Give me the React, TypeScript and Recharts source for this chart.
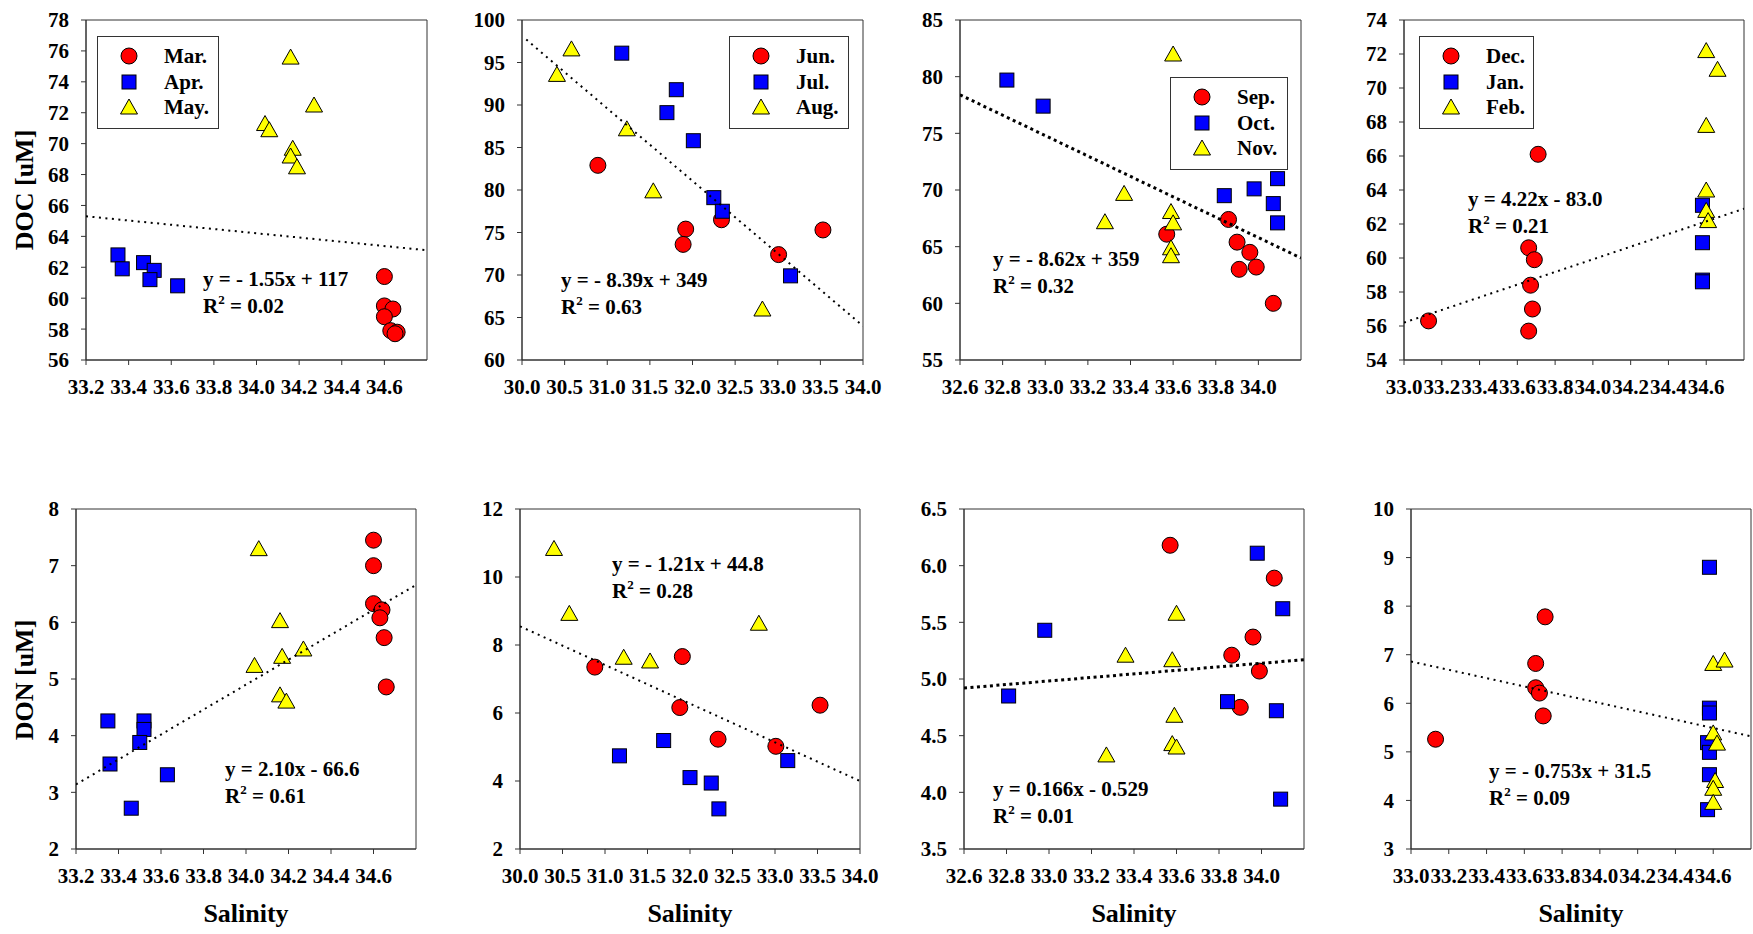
import React from 'react';
import { ScatterChart, Scatter, XAxis, YAxis, ReferenceArea } from 'recharts';

const FONT = '"Liberation Serif", "Times New Roman", serif';

// ---------- tick values ----------
const xTicksA = [33.2, 33.4, 33.6, 33.8, 34.0, 34.2, 34.4, 34.6];
const xTicksB = [30.0, 30.5, 31.0, 31.5, 32.0, 32.5, 33.0, 33.5, 34.0];
const xTicksC = [32.6, 32.8, 33.0, 33.2, 33.4, 33.6, 33.8, 34.0];
const xTicksD = [33.0, 33.2, 33.4, 33.6, 33.8, 34.0, 34.2, 34.4, 34.6];
const yTicks1 = [56, 58, 60, 62, 64, 66, 68, 70, 72, 74, 76, 78];
const yTicks2 = [60, 65, 70, 75, 80, 85, 90, 95, 100];
const yTicks3 = [55, 60, 65, 70, 75, 80, 85];
const yTicks4 = [54, 56, 58, 60, 62, 64, 66, 68, 70, 72, 74];
const yTicks5 = [2, 3, 4, 5, 6, 7, 8];
const yTicks6 = [2, 4, 6, 8, 10, 12];
const yTicks7 = [3.5, 4.0, 4.5, 5.0, 5.5, 6.0, 6.5];
const yTicks8 = [3, 4, 5, 6, 7, 8, 9, 10];

// ---------- DOC: Mar / Apr / May ----------
const docMarSal = [34.60, 34.60, 34.64, 34.60, 34.63, 34.66, 34.65];
const docMarVal = [61.4, 59.5, 59.3, 58.8, 57.9, 57.8, 57.7];
const docAprSal = [33.35, 33.37, 33.47, 33.52, 33.50, 33.63];
const docAprVal = [62.8, 61.9, 62.3, 61.8, 61.2, 60.8];
const docMaySal = [34.16, 34.27, 34.04, 34.06, 34.17, 34.16, 34.19];
const docMayVal = [75.6, 72.5, 71.3, 70.9, 69.7, 69.2, 68.5];
const docTrend1Sal = [33.2, 34.8];
const docTrend1Val = [65.3, 63.1];

// ---------- DOC: Jun / Jul / Aug ----------
const docJunSal = [30.89, 31.92, 31.89, 32.34, 33.01, 33.53];
const docJunVal = [82.9, 75.4, 73.6, 76.5, 72.4, 75.3];
const docJulSal = [31.17, 31.81, 31.70, 32.01, 32.25, 32.35, 33.15];
const docJulVal = [96.1, 91.8, 89.1, 85.8, 79.1, 77.5, 69.9];
const docAugSal = [30.58, 30.41, 31.23, 31.54, 32.82];
const docAugVal = [96.6, 93.6, 87.2, 79.9, 66.0];
const docTrend2Sal = [30.05, 34.0];
const docTrend2Val = [97.7, 64.0];

// ---------- DOC: Sep / Oct / Nov ----------
const docSepSal = [33.57, 33.86, 33.90, 33.96, 33.91, 33.99, 34.07];
const docSepVal = [66.1, 67.4, 65.4, 64.5, 63.0, 63.2, 60.0];
const docOctSal = [32.82, 32.99, 33.84, 33.98, 34.09, 34.07, 34.09];
const docOctVal = [79.7, 77.4, 69.5, 70.1, 71.0, 68.8, 67.1];
const docNovSal = [33.60, 33.37, 33.28, 33.59, 33.60, 33.59, 33.59];
const docNovVal = [82.0, 69.7, 67.2, 68.1, 67.1, 64.9, 64.2];
const docTrend3Sal = [32.6, 34.2];
const docTrend3Val = [78.4, 64.0];

// ---------- DOC: Dec / Jan / Feb ----------
const docDecSal = [33.13, 33.71, 33.66, 33.69, 33.67, 33.68, 33.66];
const docDecVal = [56.3, 66.1, 60.6, 59.9, 58.4, 57.0, 55.7];
const docJanSal = [34.58, 34.58, 34.58, 34.58];
const docJanVal = [63.1, 60.9, 58.7, 58.6];
const docFebSal = [34.60, 34.66, 34.60, 34.60, 34.60, 34.61];
const docFebVal = [72.2, 71.1, 67.8, 64.0, 62.8, 62.2];
const docTrend4Sal = [33.0, 34.8];
const docTrend4Val = [56.2, 62.9];

// ---------- DON: Mar / Apr / May ----------
const donMarSal = [34.60, 34.60, 34.60, 34.64, 34.63, 34.65, 34.66];
const donMarVal = [7.45, 7.0, 6.33, 6.22, 6.08, 5.73, 4.86];
const donAprSal = [33.35, 33.52, 33.52, 33.50, 33.36, 33.63, 33.46];
const donAprVal = [4.26, 4.26, 4.11, 3.88, 3.50, 3.31, 2.72];
const donMaySal = [34.06, 34.16, 34.04, 34.17, 34.27, 34.16, 34.19];
const donMayVal = [7.30, 6.03, 5.24, 5.40, 5.53, 4.72, 4.61];
const donTrend1Sal = [33.2, 34.8];
const donTrend1Val = [3.14, 6.66];

// ---------- DON: Jun / Jul / Aug ----------
const donJunSal = [30.88, 31.91, 31.88, 32.33, 33.01, 33.53];
const donJunVal = [7.35, 7.66, 6.16, 5.23, 5.02, 6.23];
const donJulSal = [31.17, 31.69, 32.00, 32.25, 32.34, 33.15];
const donJulVal = [4.74, 5.19, 4.10, 3.94, 3.18, 4.60];
const donAugSal = [30.40, 30.58, 31.22, 31.53, 32.81];
const donAugVal = [10.84, 8.93, 7.64, 7.53, 8.64];
const donTrend2Sal = [30.0, 34.0];
const donTrend2Val = [8.55, 4.0];

// ---------- DON: Sep / Oct / Nov ----------
const donSepSal = [33.57, 34.06, 33.96, 33.86, 33.99, 33.90];
const donSepVal = [6.18, 5.89, 5.37, 5.21, 5.07, 4.75];
const donOctSal = [32.98, 32.81, 33.98, 34.10, 33.84, 34.07, 34.09];
const donOctVal = [5.43, 4.85, 6.11, 5.62, 4.80, 4.72, 3.94];
const donNovSal = [33.60, 33.36, 33.58, 33.59, 33.58, 33.60, 33.27];
const donNovVal = [5.58, 5.21, 5.17, 4.68, 4.43, 4.40, 4.33];
const donTrend3Sal = [32.6, 34.2];
const donTrend3Val = [4.92, 5.17];

// ---------- DON: Dec / Jan / Feb ----------
const donDecSal = [33.13, 33.71, 33.66, 33.66, 33.68, 33.70];
const donDecVal = [5.26, 7.78, 6.82, 6.32, 6.21, 5.74];
const donJanSal = [34.58, 34.58, 34.58, 34.57, 34.58, 34.58, 34.57];
const donJanVal = [8.80, 5.90, 5.80, 5.19, 4.99, 4.53, 3.81];
const donFebSal = [34.60, 34.66, 34.60, 34.62, 34.61, 34.60, 34.60];
const donFebVal = [6.82, 6.89, 5.39, 5.18, 4.41, 4.25, 3.96];
const donTrend4Sal = [33.0, 34.8];
const donTrend4Val = [6.86, 5.32];

// ---------- texts ----------
const legend1 = ['Mar.', 'Apr.', 'May.'];
const legend2 = ['Jun.', 'Jul.', 'Aug.'];
const legend3 = ['Sep.', 'Oct.', 'Nov.'];
const legend4 = ['Dec.', 'Jan.', 'Feb.'];
const eqDoc = [['y = - 1.55x + 117', '0.02'], ['y = - 8.39x + 349', '0.63'], ['y = - 8.62x + 359', '0.32'], ['y = 4.22x - 83.0', '0.21']];
const eqDon = [['y = 2.10x - 66.6', '0.61'], ['y = - 1.21x + 44.8', '0.28'], ['y = 0.166x - 0.529', '0.01'], ['y = - 0.753x + 31.5', '0.09']];

const zip = (xs: number[], ys: number[]) => xs.map((x, i) => ({ x, y: ys[i] }));

const Circle = (p: any) => <circle cx={p.cx} cy={p.cy} r={8} fill="#FF0000" stroke="#000" strokeWidth={1} />;
const Square = (p: any) => <rect x={p.cx - 7} y={p.cy - 7} width={14} height={14} fill="#0000FF" stroke="#000" strokeWidth={1} />;
const Tri = (p: any) => (
  <polygon points={`${p.cx},${p.cy - 8} ${p.cx + 8.5},${p.cy + 7} ${p.cx - 8.5},${p.cy + 7}`} fill="#FFFF00" stroke="#000" strokeWidth={1} />
);
const NoShape = () => <g />;

const tickStyle = { fill: '#000', fontSize: 21, fontWeight: 'bold', fontFamily: FONT };
const f1 = (v: number) => v.toFixed(1);
const f0 = (v: number) => String(v);

type PanelProps = {
  l: number; t: number; r: number; b: number;
  xDomain: number[]; xTicks: number[]; yDomain: number[]; yTicks: number[];
  yFmt: (v: number) => string;
  s1: any[]; s2: any[]; s3: any[]; trend: any[]; dense?: boolean;
};

function Panel({ l, t, r, b, xDomain, xTicks, yDomain, yTicks, yFmt, s1, s2, s3, trend, dense }: PanelProps) {
  const w = r - l;
  const h = b - t;
  return (
    <div style={{ position: 'absolute', left: l - 80, top: t - 20 }}>
      <ScatterChart width={w + 100} height={h + 80} margin={{ top: 20, right: 20, bottom: 0, left: 0 }}>
        <XAxis type="number" dataKey="x" domain={xDomain} ticks={xTicks} interval={0} allowDataOverflow height={60}
          tickSize={5} tickMargin={14} stroke="#333" tick={tickStyle} tickFormatter={f1} />
        <YAxis type="number" dataKey="y" domain={yDomain} ticks={yTicks} interval={0} allowDataOverflow width={80}
          tickSize={5} tickMargin={12} stroke="#333" tick={tickStyle} tickFormatter={yFmt} />
        <ReferenceArea x1={xDomain[0]} x2={xDomain[1]} y1={yDomain[0]} y2={yDomain[1]} fill="none" fillOpacity={0}
          stroke="#333" strokeWidth={1} ifOverflow="visible" />
        <Scatter data={s1} shape={Circle} isAnimationActive={false} />
        <Scatter data={s2} shape={Square} isAnimationActive={false} />
        <Scatter data={s3} shape={Tri} isAnimationActive={false} />
        <Scatter data={trend} shape={NoShape} lineType="joint" isAnimationActive={false}
          line={{ stroke: '#000', strokeWidth: dense ? 3 : 2, strokeDasharray: dense ? '3 3.5' : '2 4.5' }} />
      </ScatterChart>
    </div>
  );
}

function Legend({ left, top, width, labels }: { left: number; top: number; width: number; labels: string[] }) {
  const rows = [20, 46, 71];
  const shapes = [
    <circle cx={10} cy={10} r={8} fill="#FF0000" stroke="#000" strokeWidth={1} />,
    <rect x={3} y={3} width={14} height={14} fill="#0000FF" stroke="#000" strokeWidth={1} />,
    <polygon points="10,2 18.5,17 1.5,17" fill="#FFFF00" stroke="#000" strokeWidth={1} />,
  ];
  return (
    <div style={{ position: 'absolute', left, top, width, height: 93, boxSizing: 'border-box', border: '1.5px solid #333', background: '#fff' }}>
      {labels.map((lab, i) => (
        <React.Fragment key={lab}>
          <svg width={20} height={20} style={{ position: 'absolute', left: 32 - 10 - 1.5, top: rows[i] - 10 - 1.5 }}>{shapes[i]}</svg>
          <div style={{ position: 'absolute', left: 66, top: rows[i] - 14.5, lineHeight: '27px', fontSize: 21, fontWeight: 'bold', fontFamily: FONT, whiteSpace: 'nowrap' }}>{lab}</div>
        </React.Fragment>
      ))}
    </div>
  );
}

function Eq({ left, top, eq }: { left: number; top: number; eq: string[] }) {
  const st: React.CSSProperties = { lineHeight: '27px', fontSize: 21, fontWeight: 'bold', fontFamily: FONT, whiteSpace: 'pre' };
  return (
    <div style={{ position: 'absolute', left, top, ...st }}>
      <div>{eq[0]}</div>
      <div>R<span style={{ fontSize: 13, position: 'relative', top: -9 }}>2</span> = {eq[1]}</div>
    </div>
  );
}

const axisLabel: React.CSSProperties = { position: 'absolute', fontSize: 26, fontWeight: 'bold', fontFamily: FONT, whiteSpace: 'nowrap', lineHeight: '30px' };

export default function App() {
  return (
    <div style={{ position: 'absolute', left: 0, top: 0, width: 1753, height: 934, background: '#fff', overflow: 'hidden' }}>
      {/* Top row: DOC */}
      <Panel l={86} t={20} r={427} b={360} xDomain={[33.2, 34.8]} xTicks={xTicksA} yDomain={[56, 78]} yTicks={yTicks1} yFmt={f0}
        s1={zip(docMarSal, docMarVal)} s2={zip(docAprSal, docAprVal)} s3={zip(docMaySal, docMayVal)} trend={zip(docTrend1Sal, docTrend1Val)} />
      <Panel l={522} t={20} r={863} b={360} xDomain={[30, 34]} xTicks={xTicksB} yDomain={[60, 100]} yTicks={yTicks2} yFmt={f0}
        s1={zip(docJunSal, docJunVal)} s2={zip(docJulSal, docJulVal)} s3={zip(docAugSal, docAugVal)} trend={zip(docTrend2Sal, docTrend2Val)} />
      <Panel l={960} t={20} r={1301} b={360} xDomain={[32.6, 34.2]} xTicks={xTicksC} yDomain={[55, 85]} yTicks={yTicks3} yFmt={f0}
        s1={zip(docSepSal, docSepVal)} s2={zip(docOctSal, docOctVal)} s3={zip(docNovSal, docNovVal)} trend={zip(docTrend3Sal, docTrend3Val)} dense />
      <Panel l={1404} t={20} r={1744} b={360} xDomain={[33.0, 34.8]} xTicks={xTicksD} yDomain={[54, 74]} yTicks={yTicks4} yFmt={f0}
        s1={zip(docDecSal, docDecVal)} s2={zip(docJanSal, docJanVal)} s3={zip(docFebSal, docFebVal)} trend={zip(docTrend4Sal, docTrend4Val)} />

      {/* Bottom row: DON */}
      <Panel l={76} t={509} r={416} b={849} xDomain={[33.2, 34.8]} xTicks={xTicksA} yDomain={[2, 8]} yTicks={yTicks5} yFmt={f0}
        s1={zip(donMarSal, donMarVal)} s2={zip(donAprSal, donAprVal)} s3={zip(donMaySal, donMayVal)} trend={zip(donTrend1Sal, donTrend1Val)} />
      <Panel l={520} t={509} r={860} b={849} xDomain={[30, 34]} xTicks={xTicksB} yDomain={[2, 12]} yTicks={yTicks6} yFmt={f0}
        s1={zip(donJunSal, donJunVal)} s2={zip(donJulSal, donJulVal)} s3={zip(donAugSal, donAugVal)} trend={zip(donTrend2Sal, donTrend2Val)} />
      <Panel l={964} t={509} r={1304} b={849} xDomain={[32.6, 34.2]} xTicks={xTicksC} yDomain={[3.5, 6.5]} yTicks={yTicks7} yFmt={f1}
        s1={zip(donSepSal, donSepVal)} s2={zip(donOctSal, donOctVal)} s3={zip(donNovSal, donNovVal)} trend={zip(donTrend3Sal, donTrend3Val)} dense />
      <Panel l={1411} t={509} r={1751} b={849} xDomain={[33.0, 34.8]} xTicks={xTicksD} yDomain={[3, 10]} yTicks={yTicks8} yFmt={f0}
        s1={zip(donDecSal, donDecVal)} s2={zip(donJanSal, donJanVal)} s3={zip(donFebSal, donFebVal)} trend={zip(donTrend4Sal, donTrend4Val)} />

      {/* Legends */}
      <Legend left={97} top={36} width={122} labels={legend1} />
      <Legend left={729} top={36} width={120} labels={legend2} />
      <Legend left={1170} top={77} width={118} labels={legend3} />
      <Legend left={1419} top={36} width={115} labels={legend4} />

      {/* Equations */}
      <Eq left={203} top={266} eq={eqDoc[0]} />
      <Eq left={561} top={267} eq={eqDoc[1]} />
      <Eq left={993} top={246} eq={eqDoc[2]} />
      <Eq left={1468} top={186} eq={eqDoc[3]} />
      <Eq left={225} top={756} eq={eqDon[0]} />
      <Eq left={612} top={551} eq={eqDon[1]} />
      <Eq left={993} top={776} eq={eqDon[2]} />
      <Eq left={1489} top={758} eq={eqDon[3]} />

      {/* Axis titles */}
      <div style={{ ...axisLabel, left: 25, top: 190, transform: 'translate(-50%, -50%) rotate(-90deg)' }}>DOC [uM]</div>
      <div style={{ ...axisLabel, left: 25, top: 680, transform: 'translate(-50%, -50%) rotate(-90deg)' }}>DON [uM]</div>
      <div style={{ ...axisLabel, left: 246, top: 899, transform: 'translateX(-50%)' }}>Salinity</div>
      <div style={{ ...axisLabel, left: 690, top: 899, transform: 'translateX(-50%)' }}>Salinity</div>
      <div style={{ ...axisLabel, left: 1134, top: 899, transform: 'translateX(-50%)' }}>Salinity</div>
      <div style={{ ...axisLabel, left: 1581, top: 899, transform: 'translateX(-50%)' }}>Salinity</div>
    </div>
  );
}
